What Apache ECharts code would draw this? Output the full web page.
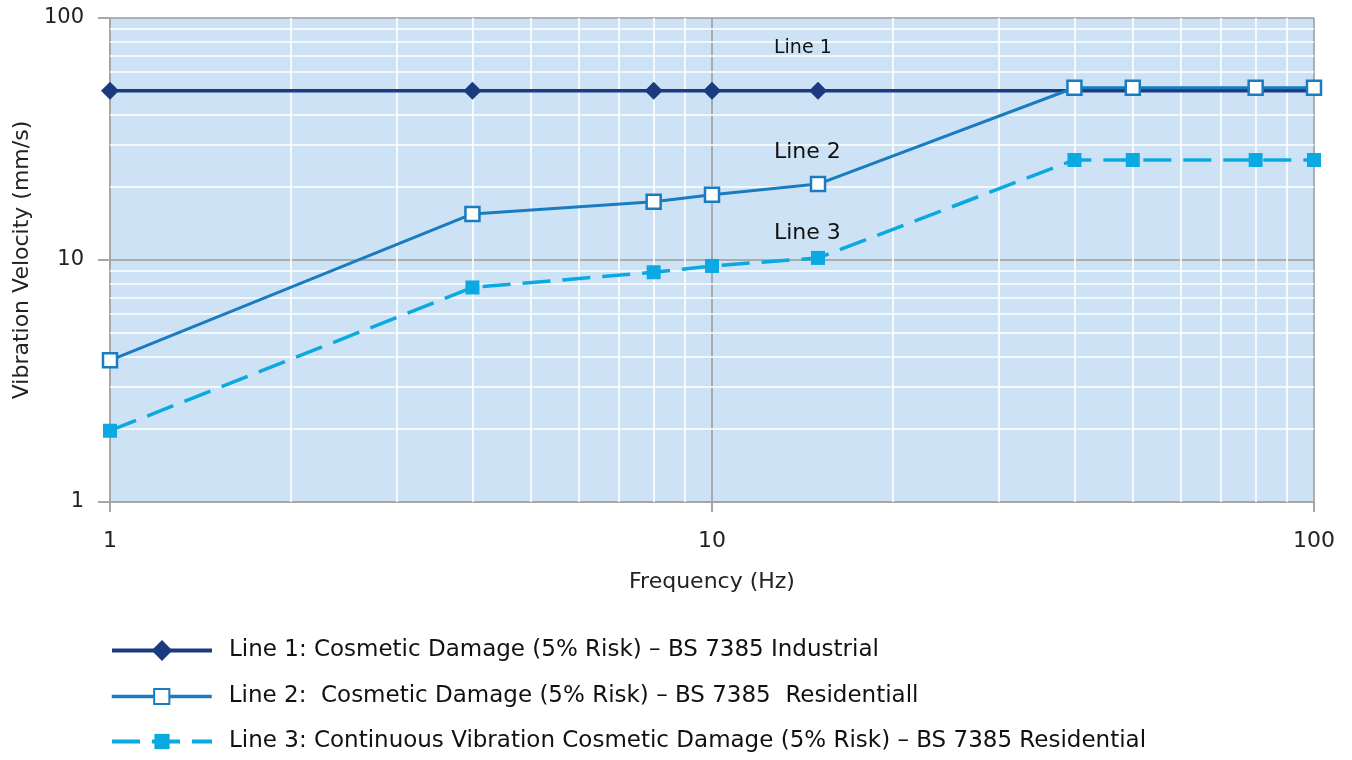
<!DOCTYPE html>
<html>
<head>
<meta charset="utf-8">
<script src="https://cdn.jsdelivr.net/npm/echarts@6/dist/echarts.min.js"></script>
<style>
html,body{margin:0;padding:0;background:#fff;}
#chart{width:1352px;height:760px;}
</style>
</head>
<body>
<div id="chart"></div>
<script>
// Data
var frequencies = [1, 4, 8, 10, 15, 40, 50, 80, 100];
var line1Freq = [1, 4, 8, 10, 15, 100];
var line1Values = [50, 50, 50, 50, 50, 50];
var line1Markers = [true, true, true, true, true, false];
var line2Values = [3.85, 15.5, 17.4, 18.6, 20.6, 51.5, 51.5, 51.5, 51.5];
var line3Values = [1.97, 7.7, 8.9, 9.45, 10.2, 25.9, 25.9, 25.9, 25.9];
var seriesNames = [
  'Line 1: Cosmetic Damage (5% Risk) \u2013 BS 7385 Industrial',
  'Line 2:  Cosmetic Damage (5% Risk) \u2013 BS 7385  Residentiall',
  'Line 3: Continuous Vibration Cosmetic Damage (5% Risk) \u2013 BS 7385 Residential'
];
var annotationLabels = ['Line 1', 'Line 2', 'Line 3'];
var minorGridX = [2,3,4,5,6,7,8,9,20,30,40,50,60,70,80,90];
var minorGridY = [2,3,4,5,6,7,8,9,20,30,40,50,60,70,80,90];
var xTickLabels = {1:'1', 10:'10', 100:'100'};
var yTickLabels = {1:'1', 10:'10', 100:'100'};

var FONT = 'DejaVu Sans';
var chart = echarts.init(document.getElementById('chart'), null, {renderer:'canvas'});

function pairs(xs, ys){ return xs.map(function(x,i){ return [x, ys[i]]; }); }

var line1Data = line1Freq.map(function(x,i){
  var d = {value:[x, line1Values[i]]};
  if(!line1Markers[i]) d.symbol = 'none';
  return d;
});

var legendTops = [639, 685, 730];
var legendIconHeights = [26, 19, 19];
var legendLineWidths = [4, 3.5, 4];
var legends = seriesNames.map(function(n, i){
  return {
    orient:'vertical', left:110, top:legendTops[i], padding:0,
    itemWidth:100, itemHeight:legendIconHeights[i], itemGap:0,
    data:[n],
    lineStyle:{width:legendLineWidths[i]},
    textStyle:{fontSize:23, color:'#111', fontFamily:FONT, padding:[0,0,0,12]}
  };
});

var option = {
  animation: false,
  textStyle: {fontFamily: FONT},
  grid: {left:110, right:38, top:18, bottom:258, show:true, backgroundColor:'#cde3f5', borderWidth:0},
  xAxis: {
    type:'log', logBase:10, min:1, max:100,
    name:'Frequency (Hz)', nameLocation:'middle', nameGap:69,
    nameTextStyle:{fontSize:22, color:'#222', fontFamily:FONT},
    axisLine:{show:true, onZero:false, lineStyle:{color:'#a6a6a6', width:2}},
    axisTick:{show:true, length:10, lineStyle:{color:'#a6a6a6', width:2}},
    axisLabel:{fontSize:22, color:'#222', margin:28, fontFamily:FONT,
      formatter:function(v){ return xTickLabels[Math.round(v)] || ''; }},
    splitLine:{show:true, lineStyle:{color:'#9a9a9a', width:1.5}}
  },
  yAxis: {
    type:'log', logBase:10, min:1, max:100,
    name:'Vibration Velocity (mm/s)', nameLocation:'middle', nameGap:77,
    nameTextStyle:{fontSize:22, color:'#222', fontFamily:FONT},
    axisLine:{show:true, onZero:false, lineStyle:{color:'#a6a6a6', width:2}},
    axisTick:{show:true, length:12, lineStyle:{color:'#a6a6a6', width:2}},
    axisLabel:{fontSize:21, color:'#222', margin:26, fontFamily:FONT,
      formatter:function(v){ return yTickLabels[Math.round(v)] || ''; }},
    splitLine:{show:true, lineStyle:{color:'#9a9a9a', width:1.5}}
  },
  legend: legends,
  graphic: [
    {type:'text', x:774, y:48, z:100, style:{text:annotationLabels[0], font:'19px "'+FONT+'"', fill:'#111', textVerticalAlign:'middle'}},
    {type:'text', x:774, y:152, z:100, style:{text:annotationLabels[1], font:'22px "'+FONT+'"', fill:'#111', textVerticalAlign:'middle'}},
    {type:'text', x:774, y:233, z:100, style:{text:annotationLabels[2], font:'22px "'+FONT+'"', fill:'#111', textVerticalAlign:'middle'}}
  ],
  series: [
    {
      name:'grid-minor', type:'line', data:[], z:1, silent:true,
      markLine:{
        silent:true, z:1, symbol:['none','none'], label:{show:false}, animation:false,
        lineStyle:{color:'#ffffff', width:1.6, type:'solid'},
        emphasis:{disabled:true},
        data: minorGridX.map(function(v){ return {xAxis:v}; }).concat(minorGridY.map(function(v){ return {yAxis:v}; }))
      }
    },
    {
      name:seriesNames[0], type:'line', z:3, data:line1Data,
      symbol:'diamond', symbolSize:18,
      lineStyle:{color:'#1b3a7f', width:3.5},
      itemStyle:{color:'#1b3a7f'}
    },
    {
      name:seriesNames[1], type:'line', z:4, data:pairs(frequencies, line2Values),
      symbol:'rect', symbolSize:14,
      lineStyle:{color:'#1a7cc0', width:3},
      itemStyle:{color:'#ffffff', borderColor:'#1a7cc0', borderWidth:2.5}
    },
    {
      name:seriesNames[2], type:'line', z:5, data:pairs(frequencies, line3Values),
      symbol:'rect', symbolSize:14,
      lineStyle:{color:'#0ba9e2', width:3.5, type:[28,12]},
      itemStyle:{color:'#0ba9e2'}
    }
  ]
};
chart.setOption(option);
</script>
</body>
</html>
